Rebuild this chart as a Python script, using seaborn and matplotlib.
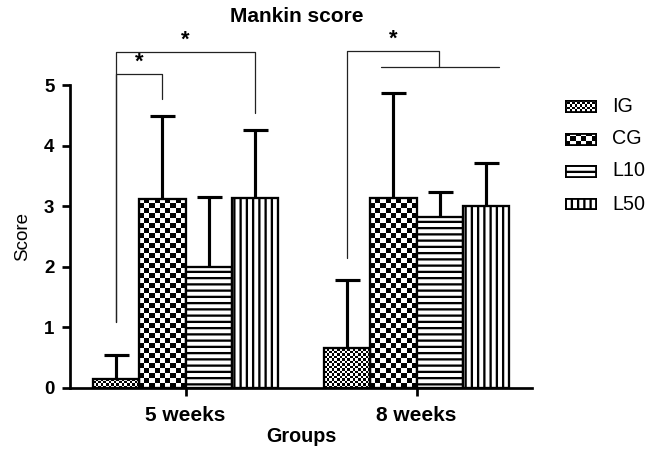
import numpy as np
import pandas as pd
import matplotlib
matplotlib.use("Agg")
import matplotlib.pyplot as plt
import seaborn as sns

# values
weeks = ["5 weeks", "8 weeks"]
groups = ["IG", "CG", "L10", "L50"]
means_5w = [0.15, 3.12, 2.00, 3.14]
sd_5w = [0.40, 1.37, 1.16, 1.12]
means_8w = [0.66, 3.13, 2.83, 3.01]
sd_8w = [1.12, 1.73, 0.41, 0.71]

# significance brackets: (left group, right group, week, top, left drop, right drop)
brackets = [
    ("IG", "CG", "5 weeks", 5.18, 1.09, 4.77),
    ("IG", "L50", "5 weeks", 5.54, 1.09, 4.54),
    ("IG", "L10", "8 weeks", 5.56, 2.15, 5.30),
]
# bar spanning CG..L50 at 8 weeks
span_line = ("CG", "L50", "8 weeks", 5.30)

df = pd.DataFrame({
    "Week": np.repeat(weeks, len(groups)),
    "Group": groups * len(weeks),
    "Score": means_5w + means_8w,
    "SD": sd_5w + sd_8w,
})

sns.set_style("ticks", {"axes.edgecolor": "black", "text.color": "black",
                        "axes.labelcolor": "black", "xtick.color": "black",
                        "ytick.color": "black"})
plt.rcParams["font.family"] = ["Liberation Sans", "DejaVu Sans"]
plt.rcParams["hatch.linewidth"] = 1.1
plt.rcParams["hatch.color"] = "black"

DPI = 150
fig = plt.figure(figsize=(661 / DPI, 450 / DPI), dpi=DPI)
ax = fig.add_axes([70 / 661, 62 / 450, 462 / 661, 303 / 450])

sns.barplot(data=df, x="Week", y="Score", hue="Group", hue_order=groups,
            order=weeks, palette=["white"] * 4, edgecolor="black",
            linewidth=1.1, width=0.8, errorbar=None, legend=False, ax=ax,
            saturation=1)

ax.set_xlim(-0.5, 1.5)
ax.set_ylim(0, 5)

hatches = {"L10": "----", "L50": "||||"}
checker_cell = {"IG": 2.5, "CG": 5.0}


def checker_image(target, patch, cell, z):
    x0, y0 = patch.get_x(), patch.get_y()
    w, h = patch.get_width(), patch.get_height()
    p0 = target.transData.transform((x0, y0))
    p1 = target.transData.transform((x0 + w, y0 + h))
    nx = max(1, int(round(abs(p1[0] - p0[0]) / cell)))
    ny = max(1, int(round(abs(p1[1] - p0[1]) / cell)))
    ii, jj = np.indices((ny, nx))
    img = ((ii + jj) % 2).astype(float)
    im = target.imshow(img, cmap="gray", vmin=0, vmax=1, extent=(x0, x0 + w, y0, y0 + h),
                       origin="lower", interpolation="nearest", aspect="auto", zorder=z)
    im.set_clip_path(patch)
    return im


centers = {}
for g, cont in zip(groups, ax.containers):
    for wk, patch in zip(weeks, cont.patches):
        centers[(g, wk)] = patch.get_x() + patch.get_width() / 2
        patch.set_zorder(3)
        if g in hatches:
            patch.set_hatch(hatches[g])
        else:
            patch.set_facecolor("none")
            checker_image(ax, patch, checker_cell[g], 2)

# upper-only error bars
xs = [centers[(g, w)] for w, g in zip(df["Week"], df["Group"])]
eb = ax.errorbar(xs, df["Score"], yerr=[np.zeros(len(df)), df["SD"]], fmt="none",
                 ecolor="black", elinewidth=1.5, capsize=6, capthick=1.5, zorder=4)
# hide the caps sitting on the bar tops
for cap in eb[1]:
    if np.allclose(cap.get_ydata(), df["Score"].values):
        cap.set_visible(False)

ax.set_ylim(0, 5)
ax.set_xlim(-0.5, 1.5)

# significance brackets
for gl, gr, wk, top, ldrop, rdrop in brackets:
    xl, xr = centers[(gl, wk)], centers[(gr, wk)]
    if gr == "L10":
        xr = centers[(gr, wk)] - 0.004
    ax.plot([xl, xl, xr, xr], [ldrop, top, top, rdrop], color="#222222", lw=0.6,
            clip_on=False, zorder=5)
    ax.text((xl + xr) / 2, top + 0.02, "*", ha="center", va="bottom",
            fontsize=10.5, fontweight="bold", clip_on=False)
g1, g2, wk, yy = span_line
ax.plot([centers[(g1, wk)] - 0.055, centers[(g2, wk)] + 0.055], [yy, yy],
        color="#222222", lw=0.6, clip_on=False, zorder=5)

# axes styling
sns.despine(ax=ax)
for s in ["left", "bottom"]:
    ax.spines[s].set_linewidth(1.3)
ax.tick_params(axis="both", width=1.3, length=4, direction="out", colors="black")
ax.tick_params(axis="y", pad=3.5, labelsize=9)
ax.tick_params(axis="x", pad=4.5, labelsize=10)
ax.set_yticks([0, 1, 2, 3, 4, 5])
for lab in ax.get_xticklabels() + ax.get_yticklabels():
    lab.set_fontweight("bold")
ax.set_xlabel("Groups", fontsize=9.5, fontweight="bold", labelpad=1.0)
ax.set_ylabel("Score", fontsize=9, labelpad=6)

fig.text(297 / 661, 1 - 17 / 450, "Mankin score", ha="center", va="center",
         fontsize=10, fontweight="bold")

# legend swatches
row_y = [106, 139, 171, 204]
for g, yc in zip(groups, row_y):
    sax = fig.add_axes([565 / 661, (450 - yc - 6.5) / 450, 32 / 661, 13 / 450])
    sax.set_xlim(0, 1)
    sax.set_ylim(0, 1)
    sax.set_xticks([])
    sax.set_yticks([])
    for s in sax.spines.values():
        s.set_visible(False)
    rect = plt.Rectangle((0, 0), 1, 1, facecolor="white", edgecolor="black",
                         linewidth=1.8, zorder=3)
    sax.add_patch(rect)
    if g in hatches:
        rect.set_hatch(hatches[g])
    else:
        rect.set_facecolor("none")
        checker_image(sax, rect, checker_cell[g], 2)
    fig.text(612 / 661, 1 - yc / 450, g, ha="left", va="center", fontsize=9.5)

fig.savefig("out.png", dpi=DPI)
